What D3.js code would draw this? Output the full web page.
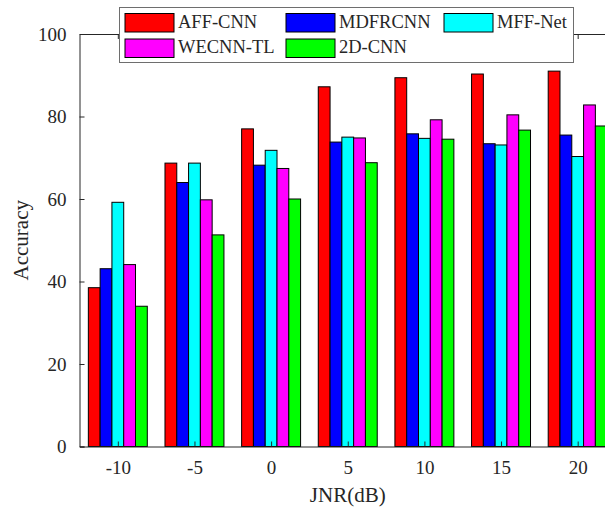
<!DOCTYPE html>
<html>
<head>
<meta charset="utf-8">
<script src="https://cdn.jsdelivr.net/npm/d3@7"></script>
<style>
  html, body { margin: 0; padding: 0; background: #fff; overflow: hidden; }
  svg { display: block; }
  text { font-family: "Palatino Linotype", "Book Antiqua", Palatino, "Liberation Serif", serif; fill: #262626; }
</style>
</head>
<body>
<div id="chart"></div>
<script>
const jnr = [-10, -5, 0, 5, 10, 15, 20];
const methods = ["AFF-CNN", "MDFRCNN", "MFF-Net", "WECNN-TL", "2D-CNN"];
const colors = ["#ff0000", "#0000ff", "#00ffff", "#ff00ff", "#00ff00"];

const affCnn = [38.5, 68.7, 77.0, 87.2, 89.4, 90.3, 91.0];
const mdfrcnn = [43.1, 64.0, 68.2, 73.8, 75.8, 73.4, 75.5];
const mffNet = [59.2, 68.7, 71.8, 75.0, 74.7, 73.1, 70.3];
const wecnnTl = [44.1, 59.8, 67.4, 74.8, 79.2, 80.4, 82.8];
const cnn2d = [34.0, 51.3, 60.0, 68.8, 74.5, 76.7, 77.7];

const yTicks = [0, 20, 40, 60, 80, 100];

const series = [affCnn, mdfrcnn, mffNet, wecnnTl, cnn2d];

const W = 605, H = 510;
const m = { left: 79.5, top: 34, bottom: 446.5, right: 616 };

const svg = d3.select("#chart").append("svg")
  .attr("width", W).attr("height", H);

const x = d3.scaleLinear().domain([-12.5, 22.5]).range([m.left, m.right]);
const y = d3.scaleLinear().domain([0, 100]).range([m.bottom, m.top]);

// grouped bars, matlab style group width
const groupW = (x(5) - x(0)) * (5 / 6.5);
const x1 = d3.scaleBand().domain(d3.range(methods.length)).range([-groupW / 2, groupW / 2]);

const rows = [];
series.forEach((vals, s) => {
  vals.forEach((v, i) => rows.push({ s: s, x: jnr[i], v: v }));
});

svg.append("g")
  .selectAll("rect")
  .data(rows)
  .enter()
  .append("rect")
  .attr("x", d => x(d.x) + x1(d.s))
  .attr("y", d => y(d.v))
  .attr("width", x1.bandwidth())
  .attr("height", d => y(0) - y(d.v))
  .attr("fill", d => colors[d.s])
  .attr("stroke", "#000")
  .attr("stroke-width", 1);

// axes (ticks inward)
const axisColor = "#262626";

const yAxis = svg.append("g")
  .attr("transform", `translate(${m.left},0)`)
  .call(d3.axisLeft(y).tickValues(yTicks).tickSize(-5).tickPadding(13));
yAxis.select(".domain").attr("stroke", axisColor);
yAxis.selectAll(".tick line").attr("stroke", axisColor);
yAxis.selectAll(".tick text").style("font-size", "19px").attr("fill", axisColor).attr("dy", "0.34em");

const xAxis = svg.append("g")
  .attr("transform", `translate(0,${m.bottom})`)
  .call(d3.axisBottom(x).tickValues(jnr).tickFormat(d => String(d))
    .tickSize(-5).tickPadding(14).tickSizeOuter(0));
xAxis.select(".domain").attr("stroke", axisColor);
xAxis.selectAll(".tick line").attr("stroke", axisColor);
xAxis.selectAll(".tick text").style("font-size", "19px").attr("fill", axisColor);

const xTop = svg.append("g")
  .attr("transform", `translate(0,${m.top})`)
  .call(d3.axisTop(x).tickValues(jnr).tickSize(-5).tickFormat("").tickSizeOuter(0));
xTop.select(".domain").attr("stroke", axisColor);
xTop.selectAll(".tick line").attr("stroke", axisColor);

// axis labels
svg.append("text")
  .attr("x", (m.left + m.right) / 2)
  .attr("y", 502)
  .attr("text-anchor", "middle")
  .style("font-size", "21px")
  .text("JNR(dB)");

svg.append("text")
  .attr("transform", `translate(28,${(m.top + m.bottom) / 2}) rotate(-90)`)
  .attr("text-anchor", "middle")
  .style("font-size", "21px")
  .text("Accuracy");

// legend
const lg = svg.append("g");
lg.append("rect")
  .attr("x", 119.5).attr("y", 7.5)
  .attr("width", 454).attr("height", 55)
  .attr("fill", "#fff")
  .attr("stroke", "#6e6e6e")
  .attr("stroke-width", 1);

const colX = [125, 286, 444];
const rowY = [13.5, 39];

const items = lg.selectAll("g.item")
  .data(methods)
  .enter()
  .append("g")
  .attr("class", "item")
  .attr("transform", (d, i) => `translate(${colX[i % 3]},${rowY[Math.floor(i / 3)]})`);

items.append("rect")
  .attr("width", 49).attr("height", 18.5)
  .attr("fill", (d, i) => colors[i])
  .attr("stroke", "#000")
  .attr("stroke-width", 1);

items.append("text")
  .attr("x", 53)
  .attr("y", 14)
  .style("font-size", "18.5px")
  .text(d => d);
</script>
</body>
</html>
